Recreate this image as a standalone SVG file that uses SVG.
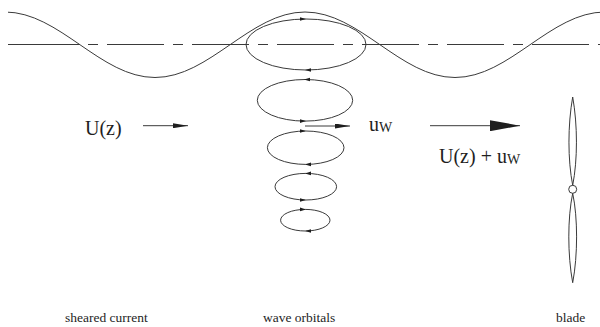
<svg xmlns="http://www.w3.org/2000/svg" xmlns:xlink="http://www.w3.org/1999/xlink" width="600" height="327" viewBox="0 0 600 327">
  <style>
    .ln { fill: none; stroke: #3a3a3a; stroke-width: 1; }
    .head { fill: #1e1e1e; stroke: none; }
    text { font-family: 'Liberation Serif', 'Times New Roman', Times, 'DejaVu Serif', serif; fill: #1e1e1e; }
    .big { font-size: 20px; }
    .cap { font-size: 13.5px; }
  </style>
  <defs>
    <clipPath id="frame"><rect x="8" y="0" width="592" height="327"/></clipPath>
    <!-- small direction head used on the orbit ellipses; tip at the origin -->
    <polygon id="tick" class="head" points="0,0 -6,-1.8 -6,1.8"/>
    <marker id="arrow-s" markerUnits="userSpaceOnUse" markerWidth="15" markerHeight="5" refX="15" refY="2.5" orient="auto">
      <path class="head" d="M0,0 L15,2.5 L0,5 Z"/>
    </marker>
    <marker id="arrow-l" markerUnits="userSpaceOnUse" markerWidth="30" markerHeight="11" refX="30" refY="5.5" orient="auto">
      <path class="head" d="M0,0 L30,5.5 L0,11 Z"/>
    </marker>
  </defs>

  <!-- mean water level: long-short dash line -->
  <g id="mean-level">
    <line class="ln" x1="8" y1="44.5" x2="80" y2="44.5"/>
    <line class="ln" x1="88" y1="44.5" x2="600" y2="44.5" stroke-dasharray="10 9 57 9"/>
  </g>

  <!-- free surface -->
  <g id="wave" clip-path="url(#frame)">
    <path class="ln" d="M5,12 C59.6,12 100.4,77.5 155,77.5 C209.6,77.5 250.4,12 305,12 C359.6,12 400.4,77.5 455,77.5 C509.6,77.5 550.4,12 605,12"/>
  </g>

  <!-- counter-rotating orbit cells, shrinking with depth -->
  <g id="orbit-1">
    <ellipse class="ln" cx="306" cy="44.5" rx="60" ry="25.5"/>
    <use xlink:href="#tick" href="#tick" transform="translate(306,19)"/>
    <use xlink:href="#tick" href="#tick" transform="translate(305,70) scale(-1,1)"/>
  </g>
  <g id="orbit-2">
    <ellipse class="ln" cx="305" cy="100.3" rx="47.7" ry="20.8"/>
    <use xlink:href="#tick" href="#tick" transform="translate(304,79.5) scale(-1,1)"/>
    <use xlink:href="#tick" href="#tick" transform="translate(306,121.1)"/>
  </g>
  <g id="orbit-3">
    <ellipse class="ln" cx="305.7" cy="147.7" rx="38.3" ry="16.7"/>
    <use xlink:href="#tick" href="#tick" transform="translate(306,131)"/>
    <use xlink:href="#tick" href="#tick" transform="translate(305,164.4) scale(-1,1)"/>
  </g>
  <g id="orbit-4">
    <ellipse class="ln" cx="305.8" cy="186.7" rx="30.8" ry="13.3"/>
    <use xlink:href="#tick" href="#tick" transform="translate(305,173.4) scale(-1,1)"/>
    <use xlink:href="#tick" href="#tick" transform="translate(306,200)"/>
  </g>
  <g id="orbit-5">
    <ellipse class="ln" cx="305.3" cy="220.2" rx="24.7" ry="10.8"/>
    <use xlink:href="#tick" href="#tick" transform="translate(306,209.4)"/>
    <use xlink:href="#tick" href="#tick" transform="translate(305,231) scale(-1,1)"/>
  </g>

  <!-- rotor blade with hub -->
  <g id="blade">
    <path class="ln" d="M572.7,97 C577.7,125 577.7,160 572.7,185.3 C567.7,160 567.7,125 572.7,97 Z"/>
    <circle class="ln" cx="572.7" cy="189.3" r="4"/>
    <path class="ln" d="M572.7,193.3 C577.9,218 577.9,255 572.7,282.7 C567.5,255 567.5,218 572.7,193.3 Z"/>
  </g>

  <!-- velocity arrows -->
  <g id="connectors">
    <line class="ln" x1="143" y1="125.7" x2="188" y2="125.7" marker-end="url(#arrow-s)"/>
    <line class="ln" x1="305" y1="126" x2="350" y2="126" marker-end="url(#arrow-s)"/>
    <line class="ln" x1="430" y1="125.7" x2="520" y2="125.7" marker-end="url(#arrow-l)"/>
  </g>

  <!-- labels -->
  <g id="labels">
    <text class="big" x="85" y="134.5">U(z)</text>
    <text class="big" x="369" y="130.7">u<tspan font-size="14" dy="1">W</tspan></text>
    <text class="big" x="439" y="163">U(z) + u<tspan font-size="14" dy="1">W</tspan></text>
    <text class="cap" x="65" y="322">sheared current</text>
    <text class="cap" x="263" y="322">wave orbitals</text>
    <text class="cap" x="556" y="322">blade</text>
  </g>
</svg>
